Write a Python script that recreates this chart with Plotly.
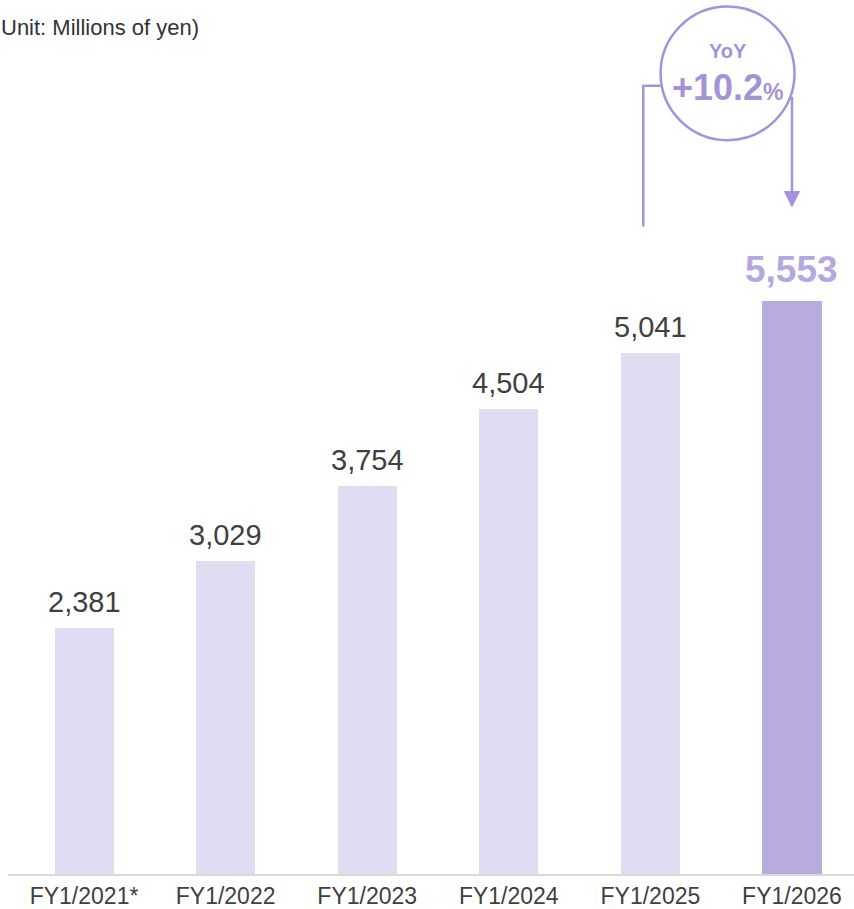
import plotly.graph_objects as go

categories = ["FY1/2021*", "FY1/2022", "FY1/2023", "FY1/2024", "FY1/2025", "FY1/2026"]
values = [2381, 3029, 3754, 4504, 5041, 5553]
value_labels = ["2,381", "3,029", "3,754", "4,504", "5,041", "5,553"]
yoy_label = "+10.2"

LIGHT = "#E0DCF2"
DARK = "#B8ABE0"
ACCENT = "#A593D8"
TEXT = "#404040"
FONT = "Liberation Sans, Arial"

xs = list(range(len(categories)))
colors = [LIGHT] * (len(values) - 1) + [DARK]

fig = go.Figure()
fig.add_trace(go.Bar(x=xs, y=values, marker=dict(color=colors, line=dict(width=0)),
                     width=0.417, hoverinfo="skip"))

annotations = []
for i, (v, lab) in enumerate(zip(values, value_labels)):
    last = i == len(values) - 1
    annotations.append(dict(
        x=i, y=v, xref="x", yref="y", text=f"<b>{lab}</b>" if last else lab,
        showarrow=False, yanchor="bottom", yshift=9 if last else 8,
        font=dict(family=FONT, size=37 if last else 29,
                  color="#B5A8E0" if last else TEXT)))

# unit note
annotations.append(dict(x=0, y=1, xref="paper", yref="paper", xanchor="left", yanchor="top",
                        text="Unit: Millions of yen)", showarrow=False, xshift=-9, yshift=-13,
                        font=dict(family=FONT, size=22, color="#333333")))

# YoY circle
n = len(values)
cx = n - 1 - 0.455
cy = 7754
rx = 0.473
ry = 647
annotations.append(dict(x=cx, y=cy, xref="x", yref="y", text="<b>YoY</b>", showarrow=False,
                        yshift=22, font=dict(family=FONT, size=20, color=ACCENT)))
annotations.append(dict(x=cx, y=cy, xref="x", yref="y",
                        text=f"<b>{yoy_label}<span style='font-size:23px'>%</span></b>",
                        showarrow=False, yshift=-14,
                        font=dict(family=FONT, size=36, color=ACCENT)))

shapes = [
    dict(type="circle", xref="x", yref="y", x0=cx - rx, x1=cx + rx, y0=cy - ry, y1=cy + ry,
         line=dict(color=ACCENT, width=2.5), fillcolor="rgba(0,0,0,0)"),
    # left connector from FY1/2025
    dict(type="path", xref="x", yref="y",
         path=f"M {n-2-0.05},6271 L {n-2-0.05},7633 L {cx-rx+0.01},7633",
         line=dict(color=ACCENT, width=2.5)),
    # right connector to FY1/2026
    dict(type="line", xref="x", yref="y", x0=n - 1, x1=n - 1, y0=7527, y1=6560,
         line=dict(color=ACCENT, width=2.5)),
    dict(type="path", xref="x", yref="y",
         path=f"M {n-1-0.053},6609 L {n-1+0.053},6609 L {n-1},6464 Z",
         fillcolor=ACCENT, line=dict(color=ACCENT, width=1)),
]

fig.update_layout(
    width=854, height=909, margin=dict(l=8, r=0, t=0, b=33),
    paper_bgcolor="white", plot_bgcolor="white", showlegend=False,
    annotations=annotations, shapes=shapes,
    xaxis=dict(tickmode="array", tickvals=xs, ticktext=categories, range=[-0.537, 5.438],
               showline=True, linecolor="#D9D9D9", linewidth=2, showgrid=False, zeroline=False,
               ticks="", tickfont=dict(family=FONT, size=23, color=TEXT),
               fixedrange=True),
    yaxis=dict(range=[0, 8464], visible=False, showgrid=False, zeroline=False, fixedrange=True),
    bargap=0,
)

fig.write_html("out.html", config={"displayModeBar": False})
